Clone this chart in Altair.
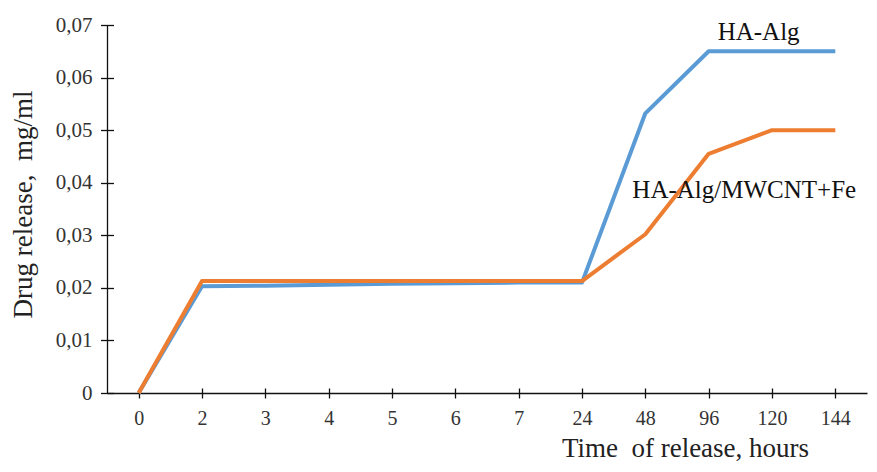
import altair as alt
import pandas as pd

hours = ["0", "2", "3", "4", "5", "6", "7", "24", "48", "96", "120", "144"]
ha_alg = [0, 0.0203, 0.0204, 0.0206, 0.0208, 0.0209, 0.0210, 0.0210, 0.0532, 0.0650, 0.0650, 0.0650]
ha_alg_mwcnt_fe = [0, 0.0213, 0.0213, 0.0213, 0.0213, 0.0213, 0.0213, 0.0213, 0.0302, 0.0455, 0.0500, 0.0500]
series_names = ["HA-Alg", "HA-Alg/MWCNT+Fe"]
series_colors = ["#5B9BD5", "#ED7D31"]
y_ticks = [0, 0.01, 0.02, 0.03, 0.04, 0.05, 0.06, 0.07]

label_text = ["HA-Alg", "HA-Alg/MWCNT+Fe"]
label_hour = ["96", "48"]
label_value = [0.0687, 0.0386]

rows = []
for h, v in zip(hours, ha_alg):
    rows.append({"hour": h, "value": v, "series": series_names[0], "order": 0})
for h, v in zip(hours, ha_alg_mwcnt_fe):
    rows.append({"hour": h, "value": v, "series": series_names[1], "order": 1})
df = pd.DataFrame(rows)
labels_df = pd.DataFrame({"hour": label_hour, "value": label_value, "text": label_text})

FONT = "Liberation Serif"
x_scale = alt.Scale(type="point", domain=hours, padding=0.5)
y_scale = alt.Scale(domain=[0, 0.07], nice=False, zero=True)

label_expr = "datum.value == 0 ? '0' : replace(format(datum.value, '.2f'), '.', ',')"

lines = alt.Chart(df).mark_line(strokeWidth=4, strokeJoin="round", strokeCap="butt").encode(
    x=alt.X("hour:N", scale=x_scale, sort=hours,
            axis=alt.Axis(orient="bottom", title="Time\u00a0 of release, hours", offset=-5, tickSize=10,
                          domain=False, labelAngle=0, labelPadding=10, labelFontSize=20,
                          labelFont=FONT, labelColor="#333333", tickColor="#111111",
                          titleFont=FONT, titleFontSize=27, titleFontWeight="normal",
                          titleColor="#222222", titleX=578, titleY=68,
                          titleBaseline="alphabetic", titleAlign="center")),
    y=alt.Y("value:Q", scale=y_scale,
            axis=alt.Axis(orient="left", title="Drug release,\u00a0 mg/ml", values=y_ticks, labelExpr=label_expr,
                          offset=-6.5, tickSize=13, domain=False, labelPadding=8.5,
                          labelFontSize=21, labelFont=FONT, labelColor="#333333",
                          tickColor="#111111", grid=False,
                          titleFont=FONT, titleFontSize=27, titleFontWeight="normal",
                          titleColor="#222222", titleX=-90.5, titleY=179,
                          titleBaseline="middle", titleAngle=270)),
    color=alt.Color("series:N", scale=alt.Scale(domain=series_names, range=series_colors), legend=None),
    order=alt.Order("order:Q"),
    detail="series:N",
)

text_top = alt.Chart(labels_df).transform_filter(alt.datum.hour == "96").mark_text(
    font=FONT, fontSize=25, align="left", baseline="middle", color="#111111", dx=9).encode(
    x=alt.X("hour:N", scale=x_scale, sort=hours,
            axis=alt.Axis(orient="bottom", title=None, labels=False, ticks=False, domain=True,
                          domainColor="#111111", domainWidth=1.3, offset=0)),
    y=alt.Y("value:Q", scale=y_scale,
            axis=alt.Axis(orient="left", title=None, labels=False, ticks=False, domain=True, grid=False,
                          domainColor="#111111", domainWidth=1.3, offset=0)),
    text="text:N",
)

text_mid = alt.Chart(labels_df).transform_filter(alt.datum.hour == "48").mark_text(
    font=FONT, fontSize=25, align="left", baseline="middle", color="#111111", dx=-13).encode(
    x=alt.X("hour:N", scale=x_scale, sort=hours, axis=None),
    y=alt.Y("value:Q", scale=y_scale, axis=None),
    text="text:N",
)

chart = alt.layer(lines, text_top, text_mid).resolve_axis(x="independent", y="independent").properties(
    width=760, height=368,
    autosize=alt.AutoSizeParams(type="none"),
    padding={"left": 99, "top": 17, "right": 2, "bottom": 71},
    background="white",
).configure_view(stroke=None).configure_axis(grid=False, tickWidth=1.3)

chart.save("out.html", embed_options={"renderer": "svg", "actions": False})
